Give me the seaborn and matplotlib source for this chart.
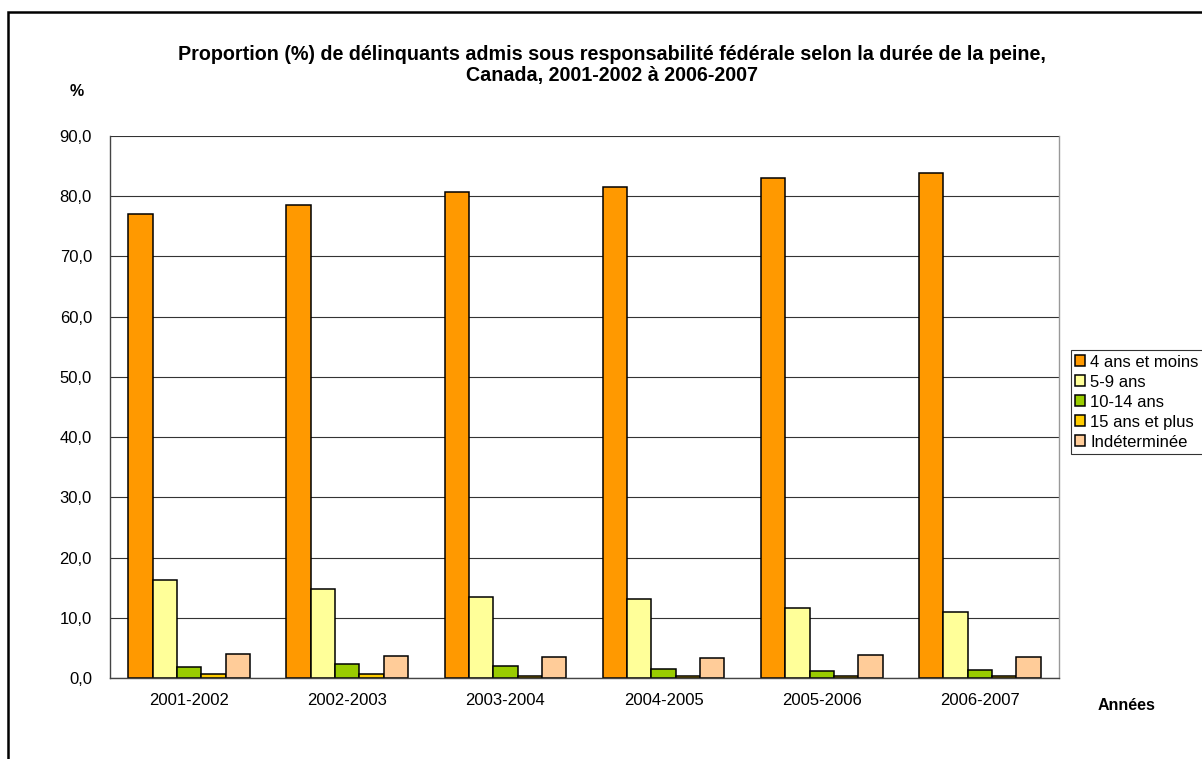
import numpy as np
import pandas as pd
import matplotlib.pyplot as plt
import matplotlib.patches as patches
import seaborn as sns

# données
annees = ["2001-2002", "2002-2003", "2003-2004", "2004-2005", "2005-2006", "2006-2007"]
duree = ["4 ans et moins", "5-9 ans", "10-14 ans", "15 ans et plus", "Indéterminée"]
v_4ans = [77.0, 78.5, 80.7, 81.6, 83.0, 83.8]
v_5_9 = [16.3, 14.8, 13.4, 13.2, 11.7, 11.0]
v_10_14 = [1.9, 2.4, 2.0, 1.5, 1.2, 1.3]
v_15plus = [0.6, 0.7, 0.4, 0.3, 0.3, 0.3]
v_indet = [4.0, 3.6, 3.5, 3.3, 3.8, 3.5]
couleurs = ["#FF9900", "#FFFF99", "#99CC00", "#FFCC00", "#FFCC99"]

valeurs = [v_4ans, v_5_9, v_10_14, v_15plus, v_indet]
df = pd.DataFrame([
    {"Années": a, "Durée": d, "pct": valeurs[j][i]}
    for j, d in enumerate(duree) for i, a in enumerate(annees)
])

sns.set_style("white")
plt.rcParams['font.family'] = ['Liberation Sans', 'DejaVu Sans']
plt.rcParams['text.color'] = 'black'
plt.rcParams['xtick.color'] = 'black'
plt.rcParams['ytick.color'] = 'black'

W, H = 1202, 759
fig = plt.figure(figsize=(W / 100, H / 100), dpi=100)
ax = fig.add_axes([110 / W, (H - 678) / H, (1059 - 110) / W, (678 - 136) / H])

sns.barplot(data=df, x="Années", y="pct", hue="Durée", hue_order=duree,
            order=annees, palette=couleurs, width=0.77, edgecolor="black",
            linewidth=1.1, saturation=1, ax=ax, legend=True)

# axes
ax.set_ylim(0, 90)
ax.set_yticks(np.arange(0, 91, 10))
ax.set_yticklabels([f"{v:.1f}".replace(".", ",") for v in np.arange(0, 91, 10)], fontsize=12)
ax.set_xlim(-0.5, len(annees) - 0.5)
ax.set_xticks(range(len(annees)))
ax.set_xticklabels(annees, fontsize=12)
ax.set_xticks(np.arange(-0.5, len(annees), 1), minor=True)
ax.tick_params(axis="x", which="major", length=0, pad=11)
ax.tick_params(axis="x", which="minor", length=5, width=0.8, color="#444444", direction="out")
ax.tick_params(axis="y", length=5, width=0.8, color="#444444", direction="out", pad=8)
ax.set_xlabel("")
ax.set_ylabel("")
ax.yaxis.grid(True, color="#333333", linewidth=0.8)
ax.set_axisbelow(True)
for s in ["left", "bottom"]:
    ax.spines[s].set_color("#444444")
    ax.spines[s].set_linewidth(1.0)
ax.spines["right"].set_color("#999999")
ax.spines["right"].set_linewidth(1.0)
ax.spines["top"].set_visible(False)

# légende
leg = ax.legend(loc="center left", bbox_to_anchor=(1071 / W, 1 - 402 / H),
                bbox_transform=fig.transFigure, frameon=True, fancybox=False,
                fontsize=12, handlelength=0.6, handleheight=0.6, handletextpad=0.3,
                labelspacing=0.3, borderpad=0.25, borderaxespad=0)
leg.get_frame().set_edgecolor("black")
leg.get_frame().set_linewidth(0.8)

# textes
fig.text(612 / W, 1 - 65 / H,
         "Proportion (%) de délinquants admis sous responsabilité fédérale selon la durée de la peine,\nCanada, 2001-2002 à 2006-2007",
         ha="center", va="center", fontsize=14.2, fontweight="bold", linespacing=1.2)
fig.text(77 / W, 1 - 92 / H, "%", ha="center", va="center", fontsize=11.5, fontweight="bold")
fig.text(1127 / W, 1 - 705 / H, "Années", ha="center", va="center", fontsize=11.5, fontweight="bold")

# cadre
fig.patches.append(patches.Rectangle((8 / W, -0.1), 1.2, 0.1 + 1 - 12 / H,
                                     transform=fig.transFigure, fill=False,
                                     edgecolor="black", linewidth=1.8, figure=fig))

fig.savefig("out.png", dpi=100)
